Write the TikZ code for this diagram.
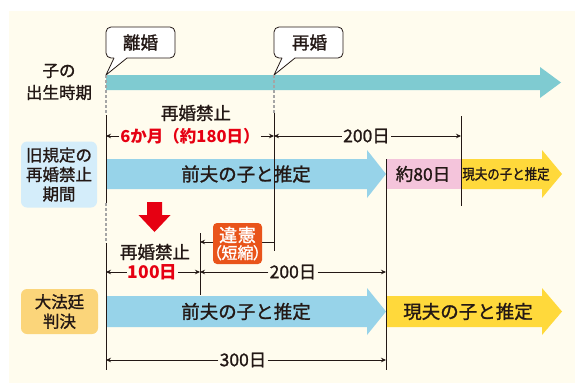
\documentclass[tikz,border=0pt]{standalone}
\usepackage{fontspec}
\setmainfont{Noto Sans CJK JP}[UprightFeatures={FakeBold=1.3}]
\usepackage{graphicx}
\usetikzlibrary{arrows.meta}
\definecolor{ink}{HTML}{231815}
\definecolor{cream}{HTML}{FFFCEE}
\definecolor{tealband}{HTML}{7FCBD1}
\definecolor{skyband}{HTML}{97D3E9}
\definecolor{paleblue}{HTML}{D4EDFA}
\definecolor{pinkbox}{HTML}{F4C4DB}
\definecolor{yellowband}{HTML}{FFD93B}
\definecolor{paleorange}{HTML}{FBD57A}
\definecolor{redtext}{HTML}{E60012}
\definecolor{vermilion}{HTML}{E9541A}
\definecolor{dashgray}{HTML}{A5A5A5}
\newcommand{\fsz}[2]{\fontsize{#1}{#2}\selectfont}
\begin{document}
\begin{tikzpicture}[x=1pt,y=-1pt,
  every node/.style={text=ink, inner sep=1pt},
  dimarrow/.style={draw=ink, line width=0.7pt, -{Stealth[length=5pt,width=4.5pt]}},
  vline/.style={draw=ink, line width=1pt},
  dashline/.style={draw=dashgray, line width=1.4pt, dash pattern=on 3pt off 2pt},
  bubble/.style={draw=ink, fill=white, line width=0.8pt, line join=round},
  lab/.style={font=\fsz{17.5}{21}},
  redlab/.style={font=\fsz{17.5}{21}\bfseries, text=redtext},
  bandtext/.style={font=\fsz{18.5}{22}},
  sidebox/.style={rounded corners=6pt, align=center, font=\fsz{16.5}{19.5}}
]
\useasboundingbox (0,0) rectangle (575,383);
\fill[cream] (9,11) rectangle (575,383);

% ---- bands ----
\fill[tealband] (106,75) -- (540,75) -- (540,67) -- (561,82.5) -- (540,98) -- (540,90) -- (106,90) -- cycle;
\fill[skyband] (106,159) -- (367,159) -- (367,150) -- (386,174) -- (367,198) -- (367,189) -- (106,189) -- cycle;
\fill[pinkbox] (386,159) rectangle (461,189);
\fill[yellowband] (461,159) -- (542,159) -- (542,150) -- (562,174) -- (542,198) -- (542,189) -- (461,189) -- cycle;
\fill[skyband] (106,296) -- (367,296) -- (367,288) -- (386,311.5) -- (367,335) -- (367,327) -- (106,327) -- cycle;
\fill[yellowband] (386,296) -- (542,296) -- (542,288) -- (562,311.5) -- (542,335) -- (542,327) -- (386,327) -- cycle;

\node[bandtext] (front1) at (246,174) {前夫の子と推定};
\node[lab] (about80) at (423,174) {約80日};
\node[font=\fsz{14.5}{16}] (now1) at (506,174) {\scalebox{0.86}[1]{現夫の子と推定}};
\node[bandtext] (front2) at (246,311.5) {前夫の子と推定};
\node[bandtext] (now2) at (468,311.5) {現夫の子と推定};

% ---- speech bubbles ----
\draw[bubble, rounded corners=5pt] (114,58) -- (106,58) -- (106,27) -- (175,27) -- (175,58) -- (127,58);
\draw[bubble] (127,58) -- (106,75) -- (114,58);
\node[font=\fsz{17.5}{20}] (divorce) at (140.5,42.5) {離婚};
\draw[bubble, rounded corners=5pt] (282,58) -- (274,58) -- (274,27) -- (343,27) -- (343,58) -- (295,58);
\draw[bubble] (295,58) -- (274,75) -- (282,58);
\node[font=\fsz{17.5}{20}] (remarry) at (309.5,42.5) {再婚};

% ---- side labels ----
\node[font=\fsz{16.5}{22}, align=center] (birth) at (59,82) {子の\\出生時期};
\node[sidebox, fill=paleblue, minimum width=76pt, minimum height=66pt] (oldrule) at (59,174.5) {旧規定の\\再婚禁止\\期間};
\node[sidebox, fill=paleorange, minimum width=77pt, minimum height=45pt] (court) at (59.5,311.5) {大法廷\\判決};

% ---- coordinates ----
\coordinate (xa1) at (106,75);  \coordinate (xa2) at (106,115);
\coordinate (xa3) at (106,203); \coordinate (xa4) at (106,243);
\coordinate (xa5) at (106,370);
\coordinate (xb1) at (274,75);  \coordinate (xb2) at (274,113);
\coordinate (xb3) at (274,251);
\coordinate (xc1) at (461,116); \coordinate (xc2) at (461,206);
\coordinate (xd1) at (386,159); \coordinate (xd2) at (386,370);
\coordinate (xe1) at (200,233); \coordinate (xe2) at (200,295);

% ---- vertical lines ----
\draw[dashline] (xa1) -- (xa2);
\draw[vline] (xa2) -- (xa3);
\draw[dashline] (xa3) -- (xa4);
\draw[vline] (xa4) -- (xa5);
\draw[dashline] (xb1) -- (xb2);
\draw[vline] (xb2) -- (xb3);
\draw[vline] (xc1) -- (xc2);
\draw[vline] (xd1) -- (xd2);
\draw[vline] (xe1) -- (xe2);

% ---- top dimensions ----
\node[lab] (ban1) at (196,113) {再婚禁止};
\node[font=\fsz{16.5}{20}\bfseries, text=redtext] (six) at (190,136) {6か月（約180日）};
\coordinate (p1l) at (106,136); \coordinate (p1r) at (274,136);
\draw[dimarrow] (six.west) -- (p1l);
\draw[dimarrow] (six.east) -- (p1r);
\node[lab] (d200a) at (366.5,136) {200日};
\coordinate (p2r) at (461,136);
\draw[dimarrow] (d200a.west) -- (p1r);
\draw[dimarrow] (d200a.east) -- (p2r);

% ---- red arrow ----
\fill[redtext] (147,202) -- (162,202) -- (162,215) -- (170.5,215) -- (154.5,232) -- (138.5,215) -- (147,215) -- cycle;

% ---- lower dimensions ----
\coordinate (u1) at (274,242); \coordinate (u2) at (200,242);
\draw[dimarrow] (u1) -- (u2);
\node[fill=vermilion, rounded corners=4pt, minimum width=49pt, minimum height=41pt, align=center, text=white, inner sep=0pt] (unconst) at (237.5,243.5)
  {{\fsz{18}{19}\addfontfeature{LetterSpace=4}違憲}\\[1pt]{\fsz{16}{16}\addfontfeature{RawFeature=+palt}（短縮）}};

\node[lab] (ban2) at (155,252) {再婚禁止};
\node[redlab] (d100) at (152.5,272) {100日};
\coordinate (q1) at (106,272); \coordinate (q2) at (200,272); \coordinate (q3) at (386,272);
\draw[dimarrow] (d100.west) -- (q1);
\draw[dimarrow] (d100.east) -- (q2);
\node[lab] (d200b) at (293,272) {200日};
\draw[dimarrow] (d200b.west) -- (q2);
\draw[dimarrow] (d200b.east) -- (q3);

\node[lab] (d300) at (243,360) {300日};
\coordinate (r1) at (106,360); \coordinate (r2) at (386,360);
\draw[dimarrow] (d300.west) -- (r1);
\draw[dimarrow] (d300.east) -- (r2);
\end{tikzpicture}
\end{document}
